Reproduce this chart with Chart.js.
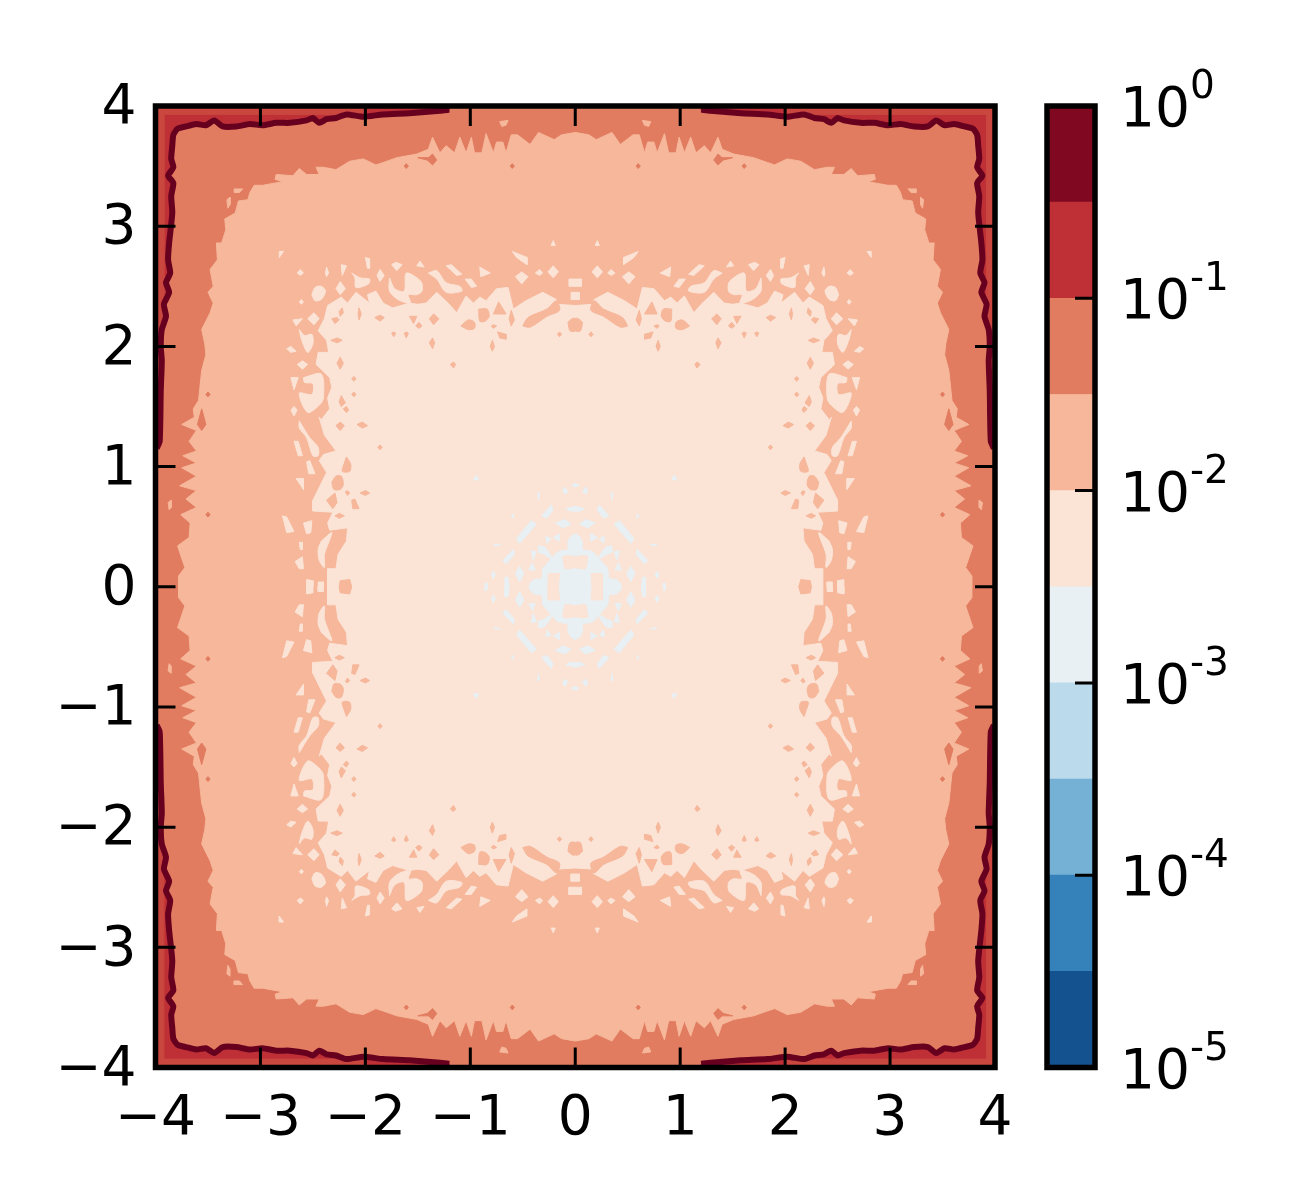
<!DOCTYPE html>
<html>
<head>
<meta charset="utf-8">
<script src="https://cdn.jsdelivr.net/npm/chart.js@4"></script>
<style>
  body { margin: 0; background: #fff; }
  canvas { position: absolute; left: 0; top: 0; }
</style>
</head>
<body>
<canvas id="field" width="1300" height="1200"></canvas>
<canvas id="bar" width="1300" height="1200"></canvas>
<script>
// contours, upper left quadrant only (the field is symmetric)
// flat lists: x, y, x, y ...
const plotCorners = [-4, 4, 4, 4, 4, -4, -4, -4];

const darkLine = [-1.20,3.97,-1.29,3.96,-1.58,3.94,-1.83,3.93,-2.02,3.91,-2.18,3.93,-2.28,3.90,-2.37,3.89,-2.44,3.86,-2.50,3.90,-2.56,3.88,-2.72,3.86,-2.85,3.86,-2.98,3.84,-3.10,3.85,-3.23,3.83,-3.36,3.83,-3.44,3.88,-3.52,3.84,-3.61,3.85,-3.71,3.83,-3.79,3.81,-3.83,3.76,-3.84,3.67,-3.85,3.56,-3.83,3.49,-3.88,3.42,-3.83,3.36,-3.85,3.25,-3.84,3.11,-3.87,2.86,-3.88,2.72,-3.86,2.61,-3.90,2.53,-3.87,2.45,-3.92,2.35,-3.90,2.25,-3.94,2.14,-3.95,2.00,-3.94,1.88,-3.95,1.63,-3.96,1.21,-3.99,1.15];
const redCorner = [-4,4,-1.20,4];
const redEdge = [-4,4,-2.0,4,-2.0,3.93,-3.92,3.93,-3.92,2.3,-3.96,1.2,-4,1.15];

const peachEdge = [0,3.78,-0.13,3.76,-0.20,3.72,-0.35,3.78,-0.43,3.68,-0.55,3.76,-0.61,3.76,-0.66,3.61,-0.69,3.70,-0.75,3.70,-0.78,3.61,-0.85,3.77,-0.89,3.61,-0.96,3.61,-0.99,3.74,-1.04,3.61,-1.10,3.74,-1.15,3.61,-1.23,3.67,-1.29,3.61,-1.36,3.74,-1.40,3.64,-1.51,3.60,-1.70,3.57,-1.83,3.53,-1.90,3.51,-2.02,3.56,-2.15,3.54,-2.28,3.47,-2.40,3.49,-2.47,3.49,-2.44,3.43,-2.56,3.43,-2.63,3.48,-2.69,3.42,-2.85,3.43,-2.86,3.39,-2.79,3.37,-2.98,3.34,-3.06,3.34,-3.10,3.28,-3.12,3.22,-3.21,3.21,-3.24,3.11,-3.34,3.06,-3.33,2.97,-3.37,2.86,-3.42,2.86,-3.41,2.72,-3.48,2.64,-3.45,2.50,-3.50,2.45,-3.45,2.36,-3.48,2.28,-3.56,2.14,-3.53,2.02,-3.52,1.93,-3.56,1.80,-3.59,1.55,-3.64,1.48,-3.63,1.41,-3.75,1.35,-3.61,1.30,-3.68,1.21,-3.61,1.13,-3.74,1.09,-3.61,1.03,-3.75,0.99,-3.61,0.92,-3.77,0.84,-3.61,0.80,-3.71,0.73,-3.61,0.66,-3.76,0.60,-3.67,0.53,-3.68,0.41,-3.79,0.34,-3.72,0.16,-3.78,0.09,-3.78,0];

const paleEdge = [0,2.34,-0.18,2.35,-0.18,2.39,-0.31,2.45,-0.47,2.38,-0.59,2.31,-0.64,2.49,-0.75,2.48,-0.85,2.38,-0.91,2.41,-0.97,2.36,-1.04,2.42,-1.13,2.28,-1.20,2.35,-1.32,2.45,-1.42,2.36,-1.50,2.35,-1.58,2.36,-1.74,2.32,-1.83,2.36,-1.90,2.46,-1.98,2.43,-1.96,2.36,-2.09,2.45,-2.17,2.36,-2.23,2.41,-2.36,2.34,-2.39,2.23,-2.45,2.13,-2.37,2.05,-2.35,1.95,-2.45,1.95,-2.47,1.85,-2.34,1.74,-2.32,1.66,-2.36,1.57,-2.34,1.48,-2.42,1.39,-2.44,1.41,-2.39,1.26,-2.28,1.13,-2.40,1.10,-2.44,1.05,-2.37,0.95,-2.50,0.72,-2.50,0.63,-2.31,0.62,-2.36,0.53,-2.34,0.47,-2.17,0.49,-2.18,0.38,-2.26,0.27,-2.28,0.15,-2.36,0.15,-2.36,0];

const coreEdge = [0,0.44,-0.04,0.42,-0.07,0.37,-0.07,0.31,-0.13,0.30,-0.17,0.29,-0.24,0.22,-0.31,0.15,-0.32,0.07,-0.39,0.06,-0.43,0.03,-0.44,0];

const peachOnOrange = [
  [-0.72,3.87,-0.64,3.88,-0.66,3.84,-0.70,3.83],
  [-3.25,3.31,-3.17,3.31,-3.20,3.28,-3.25,3.28],
  [-3.32,3.22,-3.29,3.24,-3.29,3.18,-3.31,3.15],
  [-3.88,0.70,-3.85,0.72,-3.85,0.66,-3.87,0.64]
];
const orangeOnPeach = [
  [-1.50,3.57,-1.40,3.57,-1.36,3.60,-1.32,3.55,-1.36,3.51,-1.41,3.55],
  [-3.56,1.48,-3.52,1.35,-3.56,1.30,-3.60,1.35],
  [-3.52,1.60,-3.50,1.62,-3.48,1.60,-3.50,1.58],
  [-3.52,0.60,-3.50,0.62,-3.48,0.60,-3.50,0.58],
  [-1.63,3.50,-1.61,3.52,-1.59,3.50,-1.61,3.48],
  [-0.62,3.50,-0.60,3.52,-0.58,3.50,-0.60,3.48]
];
const paleOnPeach = [
  [-2.51,2.43,-2.48,2.49,-2.42,2.50,-2.38,2.46,-2.42,2.39,-2.48,2.38],
  [-2.28,2.48,-2.24,2.54,-2.19,2.48,-2.24,2.43],
  [-2.23,2.68,-2.18,2.67,-2.22,2.59],
  [-2.65,2.61,-2.62,2.64,-2.59,2.61,-2.62,2.59],
  [-2.38,2.61,-2.37,2.66,-2.35,2.61,-2.37,2.58],
  [-2.13,2.61,-2.05,2.57,-1.96,2.56,-1.97,2.52,-2.09,2.49,-2.10,2.57],
  [-2.00,2.74,-1.96,2.73,-1.96,2.65,-1.98,2.65],
  [-1.89,2.59,-1.86,2.64,-1.82,2.59,-1.86,2.54],
  [-1.75,2.68,-1.71,2.70,-1.65,2.68,-1.70,2.63],
  [-1.51,2.67,-1.48,2.71,-1.44,2.66],
  [-1.77,2.57,-1.72,2.48,-1.63,2.46,-1.61,2.61,-1.47,2.54,-1.46,2.46,-1.51,2.43,-1.59,2.43,-1.57,2.36,-1.69,2.39,-1.77,2.46],
  [-1.40,2.61,-1.32,2.63,-1.23,2.53,-1.10,2.50,-1.08,2.46,-1.23,2.45,-1.32,2.56],
  [-1.23,2.67,-1.18,2.68,-1.08,2.60,-1.13,2.59],
  [-1.05,2.56,-0.99,2.56,-0.94,2.50,-0.99,2.49],
  [-0.91,2.66,-0.81,2.61,-0.90,2.58],
  [-0.60,2.79,-0.46,2.74,-0.46,2.68,-0.56,2.74],
  [-0.57,2.58,-0.51,2.62,-0.45,2.58,-0.51,2.52],
  [-0.26,2.62,-0.21,2.67,-0.16,2.62,-0.21,2.57],
  [-0.38,2.61,-0.34,2.64,-0.31,2.61,-0.34,2.59],
  [-0.06,2.56,0,2.56,0,2.50,-0.06,2.50],
  [-0.04,2.45,0,2.45,0,2.39,-0.04,2.39],
  [-0.23,2.84,-0.21,2.88,-0.19,2.84],
  [-2.82,2.79,-2.78,2.79,-2.82,2.74],
  [-2.69,2.22,-2.60,2.23,-2.66,2.17],
  [-2.55,2.23,-2.49,2.28,-2.44,2.23,-2.49,2.18],
  [-2.63,2.37,-2.61,2.39,-2.59,2.37,-2.61,2.35],
  [-2.63,2.14,-2.58,2.09,-2.51,2.10,-2.50,2.02,-2.55,1.95,-2.61,2.06],
  [-2.75,1.98,-2.71,2.00,-2.66,1.96,-2.71,1.95],
  [-2.65,1.85,-2.60,1.88,-2.55,1.85,-2.60,1.81],
  [-2.59,1.74,-2.42,1.77,-2.40,1.57,-2.44,1.51,-2.55,1.45,-2.63,1.61,-2.51,1.60,-2.50,1.69,-2.58,1.70],
  [-2.71,1.74,-2.64,1.74,-2.68,1.64],
  [-2.71,1.47,-2.68,1.50,-2.65,1.47,-2.68,1.42],
  [-2.63,1.38,-2.53,1.24,-2.45,1.16,-2.45,1.09,-2.50,1.09,-2.56,1.24,-2.63,1.32],
  [-2.68,1.21,-2.64,1.21,-2.60,1.09,-2.64,1.09],
  [-2.56,1.04,-2.53,1.05,-2.48,0.94,-2.54,0.94],
  [-2.66,0.90,-2.59,0.90,-2.59,0.81],
  [-2.59,0.53,-2.51,0.55,-2.52,0.45,-2.56,0.44],
  [-2.79,0.59,-2.75,0.58,-2.68,0.46,-2.75,0.45],
  [-2.67,0.21,-2.60,0.25,-2.59,0.15,-2.63,0.15],
  [-2.63,0.37,-2.60,0.37,-2.60,0.31,-2.62,0.31],
  [-2.42,0.38,-2.32,0.45,-2.39,0.27,-2.39,0.16,-2.44,0.22,-2.45,0.31],
  [-2.56,0.06,-2.50,0.05,-2.50,0,-2.56,0],
  [-2.45,0.04,-2.40,0.04,-2.40,0,-2.45,0]
];
const peachOnPale = [
  [-2.32,2.23,-2.27,2.24,-2.25,2.22,-2.29,2.19],
  [-2.25,2.29,-2.22,2.32,-2.21,2.28,-2.24,2.25],
  [-2.06,2.32,-2.04,2.27,-2.06,2.22,-2.07,2.27],
  [-1.91,2.24,-1.86,2.26,-1.82,2.24,-1.86,2.21],
  [-1.58,2.25,-1.51,2.25,-1.54,2.19],
  [-1.39,2.23,-1.35,2.27,-1.30,2.23,-1.35,2.18],
  [-1.52,2.17,-1.49,2.20,-1.46,2.17,-1.49,2.15],
  [-1.75,2.11,-1.73,2.12,-1.71,2.11,-1.73,2.08],
  [-1.63,2.11,-1.61,2.12,-1.59,2.11,-1.61,2.07],
  [-1.39,2.03,-1.36,2.07,-1.34,2.03,-1.36,1.98],
  [-2.33,2.05,-2.27,2.07,-2.22,2.05,-2.27,2.03],
  [-2.27,1.86,-2.24,1.91,-2.21,1.86,-2.24,1.81],
  [-2.13,1.73,-2.11,1.75,-2.09,1.73,-2.11,1.71],
  [-2.13,1.60,-2.11,1.62,-2.09,1.60,-2.11,1.58],
  [-2.25,1.54,-2.23,1.59,-2.19,1.53,-2.23,1.50],
  [-2.21,1.48,-2.18,1.50,-2.16,1.47,-2.18,1.45],
  [-0.92,2.31,-0.84,2.31,-0.82,2.25,-0.86,2.21,-0.91,2.21],
  [-0.73,2.37,-0.66,2.27,-0.78,2.27],
  [-0.61,2.30,-0.58,2.22,-0.61,2.17,-0.63,2.23],
  [-1.09,2.17,-1.02,2.22,-0.96,2.20,-0.96,2.15,-1.02,2.14],
  [-0.80,2.17,-0.78,2.18,-0.75,2.17,-0.78,2.15],
  [-0.74,2.12,-0.66,2.10,-0.66,2.06,-0.72,2.07],
  [-0.50,2.17,-0.45,2.24,-0.27,2.31,-0.18,2.38,-0.15,2.30,-0.27,2.25,-0.43,2.16],
  [-0.07,2.20,-0.03,2.23,0,2.23,0,2.13,-0.05,2.13],
  [-1.19,1.85,-1.16,1.87,-1.14,1.85,-1.16,1.82],
  [-0.81,2.00,-0.79,2.05,-0.77,2.00,-0.79,1.96],
  [-0.17,2.10,-0.15,2.12,-0.13,2.10,-0.15,2.08],
  [-2.28,1.34,-2.24,1.37,-2.20,1.34,-2.24,1.30],
  [-2.08,1.35,-2.03,1.37,-1.98,1.34,-2.03,1.32],
  [-1.88,1.16,-1.86,1.18,-1.84,1.16,-1.86,1.14],
  [-2.18,1.08,-2.14,1.02,-2.15,0.96,-2.22,0.96,-2.20,1.03],
  [-2.32,0.87,-2.28,0.92,-2.23,0.92,-2.21,0.85,-2.24,0.81,-2.30,0.81],
  [-2.29,0.78,-2.27,0.70,-2.31,0.65,-2.37,0.72],
  [-2.19,0.79,-2.17,0.80,-2.15,0.78,-2.17,0.76],
  [-2.05,0.78,-2.00,0.80,-1.96,0.78,-2.00,0.76],
  [-2.13,0.72,-2.10,0.73,-2.06,0.65,-2.12,0.65],
  [-2.29,0.59,-2.25,0.61,-2.20,0.59,-2.25,0.57],
  [-2.24,0.05,-2.15,0.06,-2.13,0,-2.25,0]
];
const coreHoles = [
  [-0.12,0.25,-0.08,0.26,0,0.25,0,0.16,-0.05,0.15,-0.10,0.15,-0.11,0.19],
  [-0.26,0.11,-0.15,0.11,-0.16,0,-0.26,0]
];
const coreSpots = [
  [-0.35,0.34,-0.29,0.33,-0.22,0.23,-0.30,0.27,-0.35,0.29],
  [-0.28,0.42,-0.23,0.40,-0.27,0.36],
  [-0.21,0.41,-0.15,0.44,-0.15,0.38],
  [-0.19,0.53,-0.10,0.56,-0.04,0.52,-0.12,0.49],
  [-0.09,0.65,0,0.67,0,0.63,-0.05,0.63],
  [-0.56,0.40,-0.42,0.55,-0.37,0.52,-0.53,0.36],
  [-0.32,0.59,-0.23,0.68,-0.21,0.64,-0.27,0.57],
  [-0.69,0.22,-0.59,0.31,-0.58,0.27,-0.66,0.19],
  [-0.57,0.11,-0.53,0.17,-0.49,0.11,-0.53,0.04],
  [-0.42,0.30,-0.37,0.29,-0.40,0.22],
  [-0.41,0.20,-0.38,0.14,-0.44,0.14],
  [-0.67,0.08,-0.64,0.08,-0.63,0,-0.67,0],
  [-0.86,0.03,-0.84,0.03,-0.84,0,-0.86,0],
  [-0.80,0.10,-0.78,0.13,-0.76,0.10,-0.78,0.07],
  [-0.12,0.80,-0.10,0.83,-0.07,0.79,-0.10,0.77],
  [-0.03,0.85,0,0.86,0,0.83,-0.03,0.84],
  [-0.36,0.78,-0.34,0.78,-0.35,0.72],
  [-0.61,0.60,-0.59,0.60,-0.59,0.57],
  [-0.78,0.35,-0.71,0.35,-0.76,0.34],
  [-0.97,0.89,-0.94,0.93,-0.92,0.89]
];

const axisTicks = [-4, -3, -2, -1, 0, 1, 2, 3, 4];

// colour bar, bottom to top
const barLevels = [1e-5, 3.162e-5, 1e-4, 3.162e-4, 1e-3, 3.162e-3, 1e-2, 3.162e-2, 1e-1, 3.162e-1, 1];
const barColors = ['#14528f', '#3581ba', '#74b1d5', '#bbdaeb', '#e8f0f4', '#fbe3d6', '#f6b79a', '#e27c60', '#be3036', '#800820'];
const barTicks = [1, 1e-1, 1e-2, 1e-3, 1e-4, 1e-5];
const barExponents = ['0', '-1', '-2', '-3', '-4', '-5'];

const FONT = '"DejaVu Sans"';
const fieldColors = { red: '#be3036', redEdge: '#c9473f', dark: '#67001f', orange: '#e27c60', peach: '#f6b79a', pale: '#fbe3d6', core: '#e8f0f4' };

function toPoints(flat, sx, sy) {
  const pts = [];
  for (let i = 0; i < flat.length; i += 2) {
    pts.push({ x: flat[i] * sx, y: flat[i + 1] * sy });
  }
  return pts;
}

// quadrant path running from the y axis to the x axis -> closed outline
function fullLoop(path) {
  const ul = toPoints(path, 1, 1);
  const ll = toPoints(path, 1, -1).reverse();
  const lr = toPoints(path, -1, -1);
  const ur = toPoints(path, -1, 1).reverse();
  return ul.concat(ll, lr, ur);
}

function shape(points, color, tension) {
  return {
    data: points.concat([points[0]]),
    showLine: true,
    fill: 'shape',
    backgroundColor: color,
    borderColor: color,
    borderWidth: 1,
    pointRadius: 0,
    tension: tension || 0
  };
}

const layers = [];
function addMirrored(polys, color, round) {
  polys.forEach(poly => {
    [[1, 1], [-1, 1], [1, -1], [-1, -1]].forEach(s => {
      // blobs with enough corners get rounded, small diamonds stay pointy
      const t = round && poly.length >= 10 ? 0.3 : 0;
      layers.push(shape(toPoints(poly, s[0], s[1]), color, t));
    });
  });
}

layers.push(shape(toPoints(plotCorners, 1, 1), fieldColors.orange));
addMirrored([redCorner.concat(darkLine, [-4, 1.15])], fieldColors.red);
addMirrored([redEdge], fieldColors.redEdge);
layers.push(shape(fullLoop(peachEdge), fieldColors.peach));
addMirrored(peachOnOrange, fieldColors.peach);
addMirrored(orangeOnPeach, fieldColors.orange);
layers.push(shape(fullLoop(paleEdge), fieldColors.pale));
addMirrored(paleOnPeach, fieldColors.pale, true);
addMirrored(peachOnPale, fieldColors.peach, true);
layers.push(shape(fullLoop(coreEdge), fieldColors.core, 0.2));
addMirrored(coreHoles, fieldColors.pale);
addMirrored(coreSpots, fieldColors.core, true);
[[1, 1], [-1, 1], [1, -1], [-1, -1]].forEach(s => {
  layers.push({
    data: toPoints(darkLine, s[0], s[1]),
    showLine: true,
    fill: false,
    borderColor: fieldColors.dark,
    borderWidth: 6,
    borderJoinStyle: 'round',
    pointRadius: 0,
    tension: 0.2
  });
});

// chart.js paints the first dataset last
layers.reverse();

const frameAndTicks = {
  id: 'frameAndTicks',
  afterDatasetsDraw(chart) {
    const { ctx, chartArea: a, scales } = chart;
    ctx.save();
    ctx.strokeStyle = '#000';
    ctx.lineWidth = 3;
    ctx.beginPath();
    axisTicks.forEach(v => {
      const px = scales.x.getPixelForValue(v);
      const py = scales.y.getPixelForValue(v);
      ctx.moveTo(px, a.top); ctx.lineTo(px, a.top + 20);
      ctx.moveTo(px, a.bottom); ctx.lineTo(px, a.bottom - 20);
      ctx.moveTo(a.left, py); ctx.lineTo(a.left + 20, py);
      ctx.moveTo(a.right, py); ctx.lineTo(a.right - 20, py);
    });
    ctx.stroke();
    ctx.lineWidth = 5.5;
    ctx.strokeRect(a.left, a.top, a.right - a.left, a.bottom - a.top);
    ctx.restore();
  }
};

new Chart(document.getElementById('field'), {
  type: 'scatter',
  data: { datasets: layers },
  options: {
    responsive: false,
    animation: false,
    layout: { padding: { top: 106, right: 305, left: 0, bottom: 0 } },
    plugins: { legend: { display: false }, tooltip: { enabled: false } },
    scales: {
      x: {
        type: 'linear', min: -4, max: 4,
        afterFit(scale) { scale.height = 132.5; },
        grid: { display: false, drawTicks: false },
        border: { display: false },
        ticks: {
          stepSize: 1, padding: 19, color: '#000', maxRotation: 0, autoSkip: false,
          font: { family: FONT, size: 55 },
          callback: v => String(v).replace('-', '\u2212')
        }
      },
      y: {
        type: 'linear', min: -4, max: 4,
        afterFit(scale) { scale.width = 155.5; },
        grid: { display: false, drawTicks: false },
        border: { display: false },
        ticks: {
          stepSize: 1, padding: 19, color: '#000', autoSkip: false,
          font: { family: FONT, size: 55, lineHeight: '6px' },
          // empty first line pushes the digits down a little
          callback: v => ['', String(v).replace('-', '\u2212')]
        }
      }
    }
  },
  plugins: [frameAndTicks]
});

const barFrame = {
  id: 'barFrame',
  afterDatasetsDraw(chart) {
    const { ctx, chartArea: a, scales } = chart;
    ctx.save();
    ctx.strokeStyle = '#000';
    ctx.fillStyle = '#000';
    ctx.lineWidth = 3;
    ctx.beginPath();
    barTicks.forEach(v => {
      const py = scales.y.getPixelForValue(v);
      ctx.moveTo(a.right, py); ctx.lineTo(a.right - 20, py);
    });
    ctx.stroke();
    ctx.lineWidth = 5.5;
    ctx.strokeRect(a.left, a.top, a.right - a.left, a.bottom - a.top);
    ctx.textAlign = 'left';
    ctx.textBaseline = 'alphabetic';
    barTicks.forEach((v, i) => {
      const py = scales.y.getPixelForValue(v);
      ctx.font = '55px ' + FONT;
      ctx.fillText('10', 1120, py + 20);
      ctx.font = '39px ' + FONT;
      ctx.fillText(barExponents[i], 1190, py - 8);
    });
    ctx.restore();
  }
};

new Chart(document.getElementById('bar'), {
  type: 'bar',
  data: {
    labels: ['level'],
    datasets: barColors.map((c, i) => ({
      data: [[barLevels[i], barLevels[i + 1]]],
      backgroundColor: c,
      borderWidth: 0,
      borderSkipped: false,
      grouped: false,
      barPercentage: 1,
      categoryPercentage: 1
    }))
  },
  options: {
    responsive: false,
    animation: false,
    layout: { padding: { top: 106, right: 205, left: 1047, bottom: 132.5 } },
    plugins: { legend: { display: false }, tooltip: { enabled: false } },
    scales: {
      x: { display: false },
      y: { type: 'logarithmic', display: false, min: 1e-5, max: 1 }
    }
  },
  plugins: [barFrame]
});
</script>
</body>
</html>
